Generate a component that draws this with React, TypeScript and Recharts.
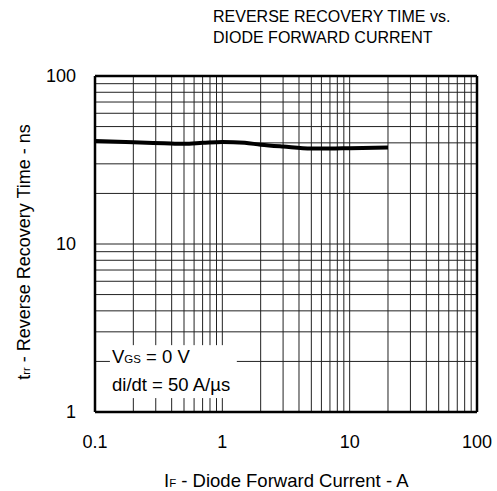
import { LineChart, Line, XAxis, YAxis, ReferenceLine } from 'recharts'

const currentA = [0.1, 0.2, 0.35, 0.5, 0.7, 1, 1.5, 2, 3, 5, 7, 10, 20]
const trrNs = [41, 40.3, 39.8, 39.5, 40, 40.5, 40, 39, 38, 37, 37, 37.2, 37.5]

const xTicks = [0.1, 1, 10, 100]
const yTicks = [1, 10, 100]
const xMinor = [0.2, 0.3, 0.4, 0.5, 0.6, 0.7, 0.8, 0.9, 1, 2, 3, 4, 5, 6, 7, 8, 9, 10, 20, 30, 40, 50, 60, 70, 80, 90]
const yMinor = [2, 3, 4, 5, 6, 7, 8, 9, 10, 20, 30, 40, 50, 60, 70, 80, 90]

// hole in the grid behind the test-condition note
const noteX = [0.131, 1.3]
const noteY = [1.21, 2.5]

const data = currentA.map((x, i) => ({ x, y: trrNs[i] }))

const font = '"Liberation Sans", Arial, sans-serif'
const gridColor = '#222'

function verticalSegs(x: number) {
  if (x > noteX[0] && x < noteX[1]) {
    return [
      [{ x, y: 1 }, { x, y: noteY[0] }],
      [{ x, y: noteY[1] }, { x, y: 100 }],
    ]
  }
  return [[{ x, y: 1 }, { x, y: 100 }]]
}

function horizontalSegs(y: number) {
  if (y > noteY[0] && y < noteY[1]) {
    return [
      [{ x: 0.1, y }, { x: noteX[0], y }],
      [{ x: noteX[1], y }, { x: 100, y }],
    ]
  }
  return [[{ x: 0.1, y }, { x: 100, y }]]
}

function Sub({ children }: { children: string }) {
  return <span style={{ fontSize: '0.62em' }}>{children}</span>
}

export default function App() {
  const label = { position: 'absolute' as const, fontFamily: font, color: '#000', whiteSpace: 'nowrap' as const }
  return (
    <div style={{ position: 'relative', width: 497, height: 491, background: '#fff' }}>
      <style>{`body{margin:0}`}</style>
      <LineChart
        width={497}
        height={491}
        data={data}
        margin={{ top: 76, right: 20, bottom: 49, left: 15 }}
      >
        <XAxis
          dataKey="x"
          type="number"
          scale="log"
          domain={[0.1, 100]}
          ticks={xTicks}
          tickFormatter={(v: number) => String(v)}
          allowDataOverflow
          height={30}
          tickLine={false}
          tickMargin={17}
          axisLine={{ stroke: '#000', strokeWidth: 2.5 }}
          tick={{ fill: '#000', fontSize: 18, fontFamily: font }}
        />
        <YAxis
          dataKey="y"
          type="number"
          scale="log"
          domain={[1, 100]}
          ticks={yTicks}
          allowDataOverflow
          width={80}
          tickLine={false}
          tickMargin={13}
          axisLine={{ stroke: '#000', strokeWidth: 2.5 }}
          tick={{ fill: '#000', fontSize: 18, fontFamily: font }}
        />
        {xMinor.flatMap((x) =>
          verticalSegs(x).map((seg, i) => (
            <ReferenceLine key={`v${x}-${i}`} segment={seg} stroke={gridColor} strokeWidth={1} ifOverflow="visible" />
          ))
        )}
        {yMinor.flatMap((y) =>
          horizontalSegs(y).map((seg, i) => (
            <ReferenceLine key={`h${y}-${i}`} segment={seg} stroke={gridColor} strokeWidth={1} ifOverflow="visible" />
          ))
        )}
        <ReferenceLine x={100} stroke="#000" strokeWidth={2.5} />
        <ReferenceLine y={100} stroke="#000" strokeWidth={2.5} />
        <Line
          type="monotone"
          dataKey="y"
          stroke="#000"
          strokeWidth={4}
          dot={false}
          isAnimationActive={false}
        />
      </LineChart>

      <div style={{ ...label, left: 213, top: 6, fontSize: 16, lineHeight: '21px' }}>
        REVERSE RECOVERY TIME vs.
        <br />
        DIODE FORWARD CURRENT
      </div>

      <div style={{ ...label, left: 112, top: 344, fontSize: 18.5, lineHeight: '26px' }}>
        V<Sub>GS</Sub> = 0 V
        <br />
        di/dt = 50 A/µs
      </div>

      <div style={{ ...label, left: 164, top: 470, fontSize: 18.5 }}>
        I<Sub>F</Sub> - Diode Forward Current - A
      </div>

      <div
        style={{
          ...label,
          left: 24,
          top: 252,
          fontSize: 18,
          transform: 'translate(-50%, -50%) rotate(-90deg)',
        }}
      >
        t<Sub>rr</Sub> - Reverse Recovery Time - ns
      </div>
    </div>
  )
}
